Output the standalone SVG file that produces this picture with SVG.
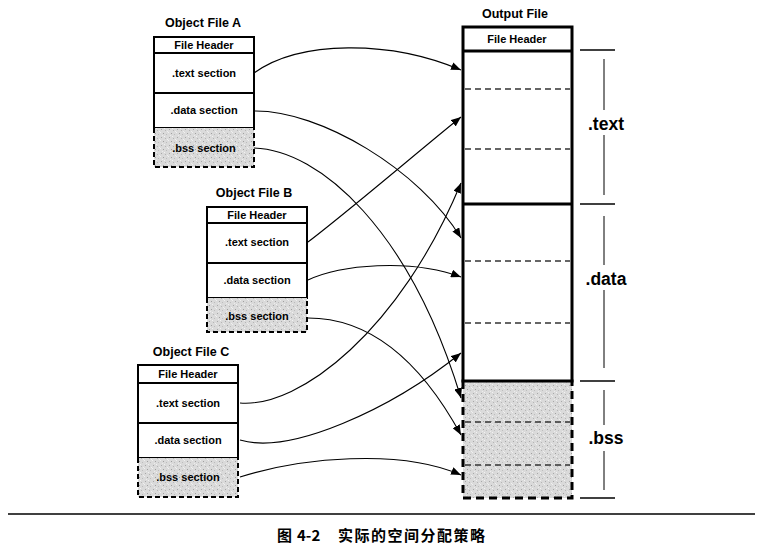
<svg xmlns="http://www.w3.org/2000/svg" width="762" height="549" viewBox="0 0 762 549">
<style>
.bg{fill:#ffffff}
.box{fill:#ffffff;stroke:#000;stroke-width:2}
.bssf{fill:url(#grain);stroke:none}
.dash{fill:none;stroke:#000;stroke-width:2;stroke-dasharray:5 3}
.sol{fill:none;stroke:#000;stroke-width:2}
.obox{fill:none;stroke:#000;stroke-width:3}
.odash{fill:none;stroke:#000;stroke-width:3;stroke-dasharray:8 5}
.inner{fill:none;stroke:#333;stroke-width:1.3;stroke-dasharray:6 4}
.t{font-family:"Liberation Sans",Arial,sans-serif;font-weight:bold;fill:#000;text-anchor:middle}
.title{font-size:12.5px}
.sec{font-size:11px}
.big{font-size:17.5px}
.cap{font-family:"Noto Sans CJK SC","Liberation Sans",sans-serif;font-weight:bold;font-size:15px;fill:#000}
.conn{fill:none;stroke:#000;stroke-width:1.1;marker-end:url(#ah)}
.brk{stroke:#000;stroke-width:1.5}
.brv{stroke:#000;stroke-width:1}
</style>
<defs>
<pattern id="grain" width="8" height="8" patternUnits="userSpaceOnUse">
<rect width="8" height="8" fill="#dadada"/>
<rect x="1" y="1" width="1" height="1" fill="#a8a8a8"/>
<rect x="5" y="2" width="1" height="1" fill="#b5b5b5"/>
<rect x="3" y="5" width="1" height="1" fill="#a0a0a0"/>
<rect x="6" y="6" width="1" height="1" fill="#bcbcbc"/>
<rect x="0" y="4" width="1" height="1" fill="#f0f0f0"/>
<rect x="4" y="0" width="1" height="1" fill="#f2f2f2"/>
<rect x="7" y="3" width="1" height="1" fill="#efefef"/>
<rect x="2" y="7" width="1" height="1" fill="#ececec"/>
</pattern>
<marker id="ah" markerUnits="userSpaceOnUse" markerWidth="10" markerHeight="8" refX="10" refY="4" orient="auto">
<path d="M0,0 L10,4 L0,8 z" fill="#000"/>
</marker>
</defs>
<rect class="bg" x="0" y="0" width="762" height="549"/>

<g id="objA">
<text class="t title" x="203" y="27">Object File A</text>
<rect class="box" x="154" y="37" width="100" height="91"/>
<line class="sol" x1="154" y1="53" x2="254" y2="53"/>
<line class="sol" x1="154" y1="93" x2="254" y2="93"/>
<rect class="bssf" x="154" y="128" width="100" height="39"/>
<path class="dash" d="M154,128 V167 H254 V128"/>
<text class="t sec" x="204" y="49">File Header</text>
<text class="t sec" x="204" y="77">.text section</text>
<text class="t sec" x="204" y="114">.data section</text>
<text class="t sec" x="204" y="152">.bss section</text>
</g>

<g id="objB">
<text class="t title" x="254" y="197">Object File B</text>
<rect class="box" x="207" y="207" width="100" height="91"/>
<line class="sol" x1="207" y1="223" x2="307" y2="223"/>
<line class="sol" x1="207" y1="263" x2="307" y2="263"/>
<rect class="bssf" x="207" y="298" width="100" height="34"/>
<path class="dash" d="M207,298 V332 H307 V298"/>
<text class="t sec" x="257" y="219">File Header</text>
<text class="t sec" x="257" y="246">.text section</text>
<text class="t sec" x="257" y="284">.data section</text>
<text class="t sec" x="257" y="320">.bss section</text>
</g>

<g id="objC">
<text class="t title" x="191" y="356">Object File C</text>
<rect class="box" x="138" y="365" width="100" height="93"/>
<line class="sol" x1="138" y1="383" x2="238" y2="383"/>
<line class="sol" x1="138" y1="423" x2="238" y2="423"/>
<rect class="bssf" x="138" y="458" width="100" height="39"/>
<path class="dash" d="M138,458 V497 H238 V458"/>
<text class="t sec" x="188" y="378">File Header</text>
<text class="t sec" x="188" y="407">.text section</text>
<text class="t sec" x="188" y="444">.data section</text>
<text class="t sec" x="188" y="481">.bss section</text>
</g>

<g id="output">
<text class="t title" x="515" y="18">Output File</text>
<rect class="bssf" x="463" y="381" width="109" height="117"/>
<line class="inner" x1="465" y1="89" x2="570" y2="89"/>
<line class="inner" x1="465" y1="149" x2="570" y2="149"/>
<line class="inner" x1="465" y1="261" x2="570" y2="261"/>
<line class="inner" x1="465" y1="323" x2="570" y2="323"/>
<line class="inner" x1="465" y1="422" x2="570" y2="422"/>
<line class="inner" x1="465" y1="465" x2="570" y2="465"/>
<path class="obox" d="M463,381 V27 H572 V381"/>
<line class="obox" x1="463" y1="51" x2="572" y2="51"/>
<line class="obox" x1="463" y1="204" x2="572" y2="204"/>
<line class="obox" x1="461.5" y1="381" x2="573.5" y2="381"/>
<path class="odash" d="M463,381 V498 H572 V381"/>
<text class="t sec" x="517" y="43">File Header</text>
</g>

<g id="labels">
<line class="brk" x1="580" y1="50" x2="615" y2="50"/>
<line class="brk" x1="580" y1="204" x2="615" y2="204"/>
<line class="brk" x1="580" y1="381" x2="615" y2="381"/>
<line class="brk" x1="580" y1="498" x2="615" y2="498"/>
<line class="brv" x1="604" y1="59" x2="604" y2="110"/>
<line class="brv" x1="604" y1="135" x2="604" y2="195"/>
<line class="brv" x1="604" y1="216" x2="604" y2="265"/>
<line class="brv" x1="604" y1="290" x2="604" y2="368"/>
<line class="brv" x1="604" y1="390" x2="604" y2="425"/>
<line class="brv" x1="604" y1="451" x2="604" y2="490"/>
<text class="t big" x="606" y="130">.text</text>
<text class="t big" x="606" y="285">.data</text>
<text class="t big" x="606" y="444">.bss</text>
</g>

<g id="connectors">
<path class="conn" d="M254,73 C300,40 390,40 461,70"/>
<path class="conn" d="M254,111 C320,110 420,170 461,238"/>
<path class="conn" d="M254,148 C320,150 410,230 461,398"/>
<path class="conn" d="M308,242 C350,210 420,150 461,117"/>
<path class="conn" d="M308,280 C340,265 410,258 461,277"/>
<path class="conn" d="M308,318 C370,318 420,360 461,435"/>
<path class="conn" d="M240,403 C300,408 400,330 461,183"/>
<path class="conn" d="M240,440 C290,455 390,410 461,353"/>
<path class="conn" d="M240,477 C300,458 400,448 461,475"/>
</g>

<g id="caption">
<line x1="8" y1="514" x2="755" y2="514" stroke="#000" stroke-width="1.5"/>
<text class="cap" x="277" y="541">图</text>
<text class="cap" x="297" y="541">4-2</text>
<text class="cap" x="338" y="541" letter-spacing="1.5">实际的空间分配策略</text>
</g>
</svg>
